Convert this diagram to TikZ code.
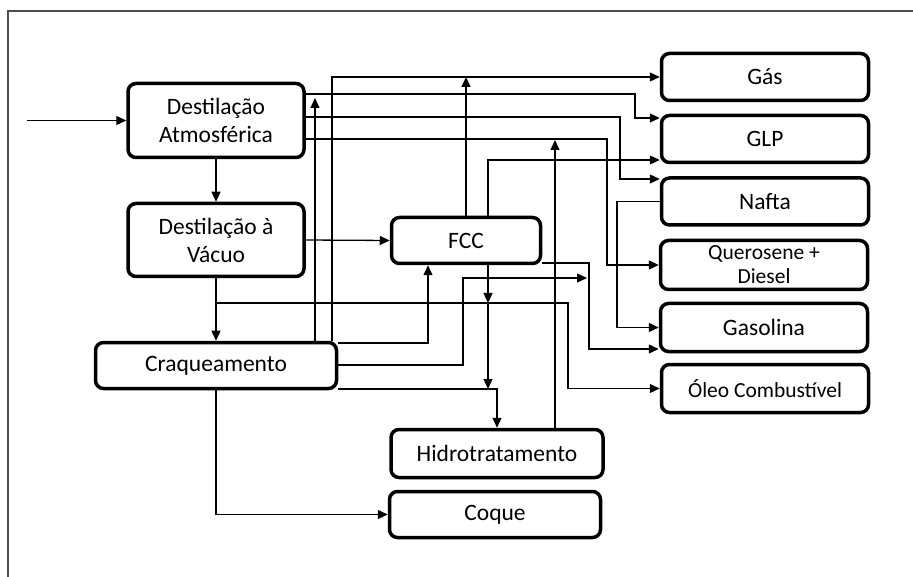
\documentclass[tikz,border=0pt]{standalone}
\usepackage{fontspec}
\setmainfont{Carlito}
\usepackage{tikz}
\usetikzlibrary{positioning, arrows.meta}

\begin{document}
\begin{tikzpicture}[x=1pt, y=-1pt, font=\fontsize{23.5}{28}\selectfont,
    unit/.style={draw, line width=3.5pt, rounded corners=8pt, align=center, inner sep=0pt},
    prod/.style={unit, minimum width=207pt, minimum height=47pt},
    flow/.style={line width=1.3pt, -{Triangle[length=10pt, width=9pt]}}]
        \useasboundingbox (0,0) rectangle (913,577);
        \draw[black!70, line width=1.5pt] (8,577) -- (8,11) -- (913,11);

        % unidades
        \node[unit, minimum width=176pt, minimum height=74pt] (da) at (216,120.5) {Destilação\\Atmosférica};
        \node[unit, minimum width=176pt, minimum height=73pt] (dv) at (216,240) {Destilação à\\Vácuo};
        \node[unit, minimum width=149pt, minimum height=46pt] (fcc) at (466,240.5) {FCC};
        \node[unit, minimum width=241pt, minimum height=46pt] (craq) at (216,365.5) {Craqueamento};
        \node[unit, minimum width=212pt, minimum height=48pt] (hidro) at (497,453.5) {Hidrotratamento};
        \node[unit, minimum width=211pt, minimum height=46pt] (coque) at (495,514.5) {Coque};

        % produtos
        \node[prod] (gas) at (765,77) {Gás};
        \node[prod] (glp) at (765,139) {GLP};
        \node[prod] (nafta) at (765,201.5) {Nafta};
        \node[prod, minimum height=49pt, font=\fontsize{21.5}{24}\selectfont] (qd) at (764,265) {Querosene +\\Diesel};
        \node[prod, minimum height=48pt] (gasol) at (764,327.5) {Gasolina};
        \node[prod, minimum height=48pt, font=\fontsize{21.5}{24}\selectfont] (oleo) at (765,388.5) {Óleo Combustível};

        \coordinate (feed) at (27,120.5);
        \coordinate (reciclo) at (315,98);
        \coordinate (hidrout) at (555,140);

        \draw[flow] (feed) -- (da.west);
        \draw[flow] (da.south) -- (dv.north);
        \draw[flow] (dv.east) -- (fcc.west);
        \draw[flow] (dv.south) -- (craq.north);
        \draw[flow] (dv.south |- 0,303) -- (568,303) |- (oleo.west);

        \draw[flow] (da.east |- 0,94) -- (635,94) |- (glp.west |- 0,118);
        \draw[flow] (da.east |- 0,117) -- (620,117) |- (nafta.west |- 0,179);
        \draw[flow] (da.east |- 0,139) -- (607,139) |- (qd.west);

        \draw[flow] (craq.north -| 332,0) |- (gas.west);
        \draw[flow] (craq.north -| reciclo) -- (reciclo);
        \draw[flow] (craq.east |- 0,343) -| (fcc.south -| 428,0);
        \draw[flow] (craq.east |- 0,365) -- (463,365) |- (587,278);
        \draw[flow] (craq.east |- 0,389) -| (hidro.north);
        \draw[flow] (craq.south) |- (coque.west);

        \draw[flow] (fcc.north) -- (fcc.north |- gas.west);
        \draw[flow] (fcc.north -| 488,0) |- (glp.west |- 0,160);
        \draw[flow] (fcc.east |- 0,263) -- (589,263) |- (gasol.west |- 0,349);
        \draw[flow] (fcc.south -| 488,0) -- (488,303);
        \draw[flow] (488,303) -- (488,389);

        \draw[flow] (hidro.north -| hidrout) -- (hidrout);
        \draw[flow] (nafta.west) -- (617,201.5) |- (gasol.west);
      \end{tikzpicture}
\end{document}
